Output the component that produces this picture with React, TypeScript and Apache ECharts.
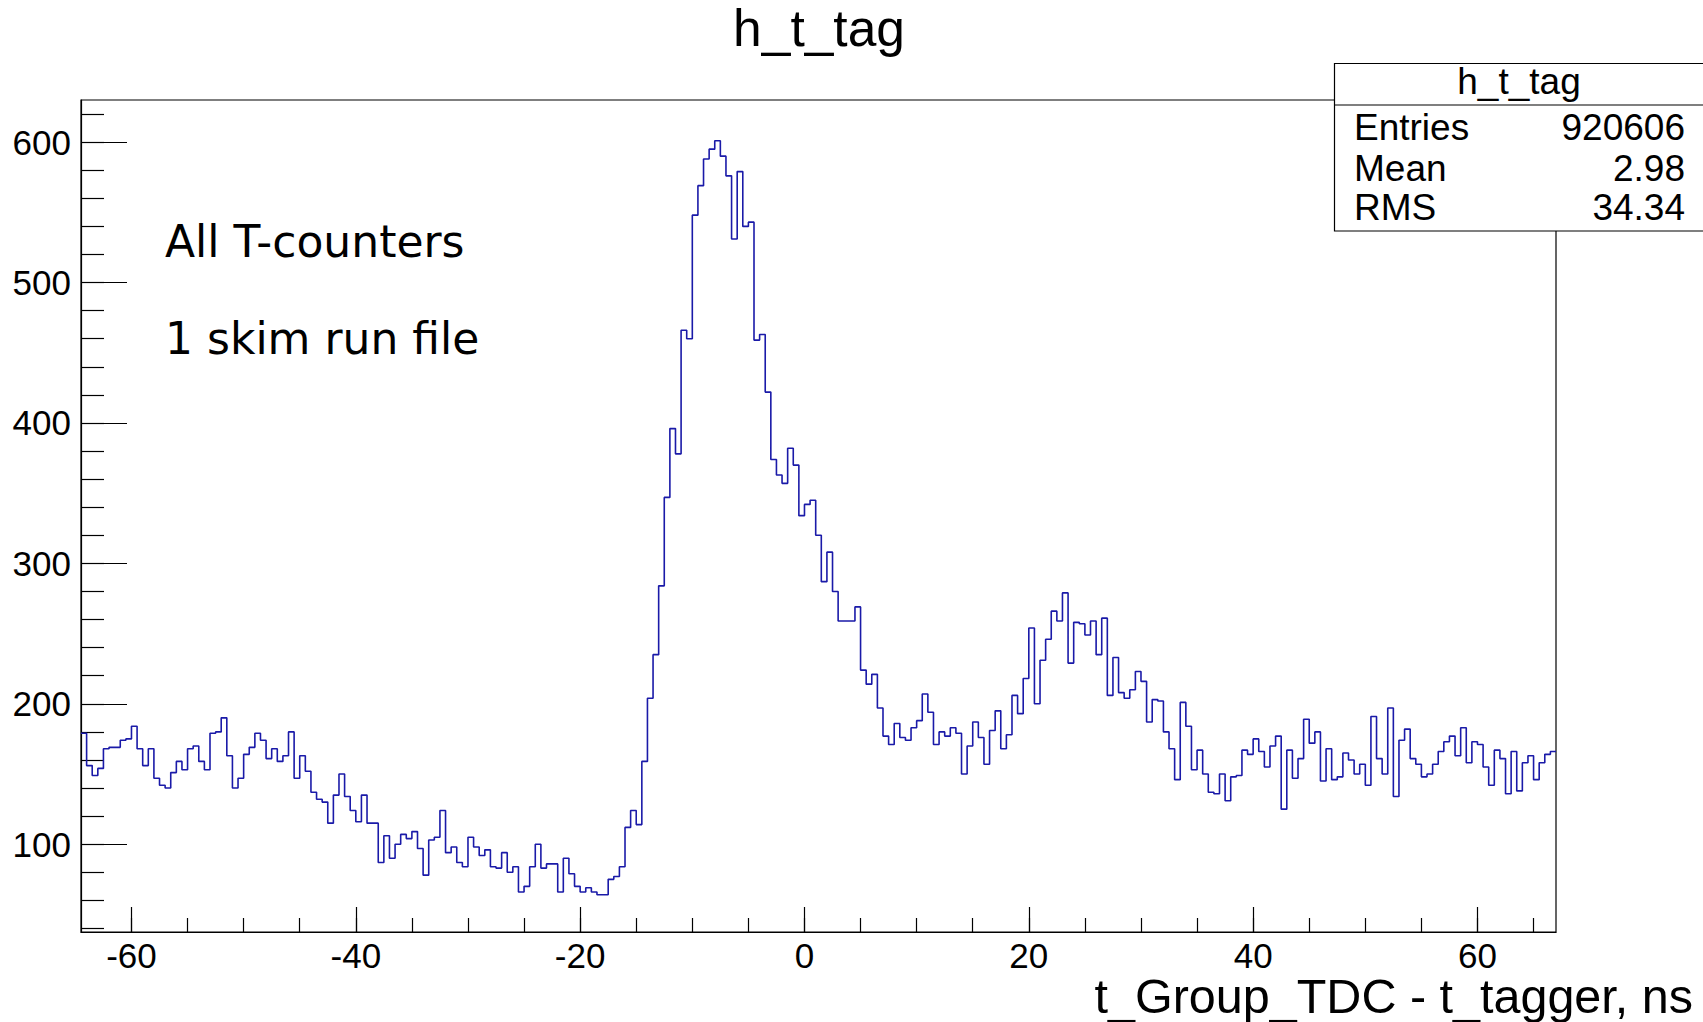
import React, { useEffect, useRef } from "react";
import * as echarts from "echarts";

// Histogram binning (ns)
const BIN_START = -64.5;
const BIN_WIDTH = 0.5;

// Bin contents, left to right
const countsLeft = [
  179, 156, 149, 154, 168, 169, 169, 174, 175, 184,
  168, 156, 168, 147, 142, 140, 151, 159, 153, 168,
  170, 159, 153, 179, 180, 190, 163, 140, 147, 164,
  169, 179, 174, 161, 168, 159, 163, 180, 147, 163,
  152, 137, 132, 130, 115, 135, 150, 134, 124, 116,
];
const countsDip = [
  135, 115, 115, 87, 106, 90, 100, 107, 104, 109,
  97, 78, 103, 105, 124, 94, 98, 87, 84, 105,
  98, 92, 96, 84, 83, 94, 80, 84, 66, 70,
  84, 100, 83, 86, 86, 66, 90, 79, 70, 66,
  69, 66, 64, 64, 75, 77, 84, 112, 124, 114,
];
const countsPeak = [
  159, 204, 235, 284, 347, 396, 378, 466, 460, 548,
  569, 588, 595, 601, 590, 576, 531, 579, 540, 543,
  459, 463, 422, 374, 363, 357, 382, 370, 334, 342,
  345, 320, 287, 308, 280, 259, 259, 259, 269, 224,
  214, 221, 197, 177, 171, 186, 176, 174, 183, 188,
];
const countsBump = [
  207, 194, 171, 180, 177, 183, 179, 150, 170, 187,
  176, 157, 181, 195, 168, 178, 206, 193, 218, 254,
  200, 231, 246, 266, 259, 279, 229, 258, 257, 249,
  259, 235, 261, 206, 233, 208, 204, 210, 223, 216,
  187, 203, 202, 180, 168, 146, 201, 184, 153, 167,
];
const countsRight = [
  150, 137, 136, 150, 131, 148, 149, 167, 164, 175,
  166, 155, 170, 177, 125, 167, 147, 161, 189, 172,
  180, 145, 168, 146, 148, 165, 160, 150, 157, 142,
  191, 161, 150, 197, 134, 174, 182, 161, 157, 148,
  150, 157, 166, 173, 177, 163, 183, 158, 173, 171,
  155, 142, 167, 161, 136, 166, 138, 158, 163, 146,
  158, 164, 166,
];

const xMajorTicks = [-60, -40, -20, 0, 20, 40, 60];
const xMinorTicks = [-60, -55, -50, -45, -40, -35, -30, -25, -20, -15, -10, -5, 0, 5, 10, 15, 20, 25, 30, 35, 40, 45, 50, 55, 60, 65];
const yMajorTicks = [100, 200, 300, 400, 500, 600];
const yMinorTicks = [40, 60, 80, 100, 120, 140, 160, 180, 200, 220, 240, 260, 280, 300, 320, 340, 360, 380, 400, 420, 440, 460, 480, 500, 520, 540, 560, 580, 600, 620];

const X_MIN = -64.5;
const X_MAX = 67;
const Y_MIN = 37.5;
const Y_MAX = 630;

const histTitle = "h_t_tag";
const xAxisTitle = "t_Group_TDC - t_tagger, ns";
const noteLines = ["All T-counters", "1 skim run file"];
const statsName = "h_t_tag";
const statsLabels = ["Entries", "Mean", "RMS"];
const statsValues = ["920606", "2.98", "34.34"];

const SANS = '"Liberation Sans", Arial, Helvetica, sans-serif';
const DEJAVU = '"DejaVu Sans", sans-serif';

export default function App() {
  const ref = useRef<HTMLDivElement | null>(null);

  useEffect(() => {
    if (!ref.current) return;
    const chart = echarts.init(ref.current, undefined, { renderer: "svg" });

    const counts = [...countsLeft, ...countsDip, ...countsPeak, ...countsBump, ...countsRight];
    const stepData: number[][] = counts.map((c, i) => [BIN_START + i * BIN_WIDTH, c]);
    stepData.push([BIN_START + counts.length * BIN_WIDTH, counts[counts.length - 1]]);

    const textEl = (
      text: string,
      x: number,
      baseline: number,
      size: number,
      family: string,
      align: string,
      lineHeight?: number
    ) => ({
      type: "text",
      z: 100,
      x,
      y: baseline - 0.35 * size,
      style: {
        text,
        fill: "#000",
        font: `${size}px ${family}`,
        textAlign: align,
        textVerticalAlign: "middle",
        align,
        verticalAlign: "middle",
        ...(lineHeight ? { lineHeight } : {}),
      },
    });

    const statsBaselines = [140, 181, 220];

    const graphics: any[] = [
      textEl(histTitle, 819, 46, 51.5, SANS, "center"),
      textEl(xAxisTitle, 1693, 1013, 48.5, SANS, "right", 36),
      textEl(noteLines[0], 165, 257, 44, DEJAVU, "left"),
      textEl(noteLines[1], 165, 354, 44, DEJAVU, "left"),
      {
        type: "rect",
        z: 90,
        shape: { x: 1334.5, y: 63.5, width: 380, height: 167.5 },
        style: { fill: "#fff", stroke: "#000", lineWidth: 1.2 },
      },
      {
        type: "line",
        z: 95,
        shape: { x1: 1334.5, y1: 105, x2: 1703, y2: 105 },
        style: { stroke: "#000", lineWidth: 1.2 },
      },
      textEl(statsName, 1519, 94, 37, SANS, "center"),
    ];
    statsLabels.forEach((lab, i) => {
      graphics.push(textEl(lab, 1354, statsBaselines[i], 37, SANS, "left"));
      graphics.push(textEl(statsValues[i], 1685, statsBaselines[i], 37, SANS, "right"));
    });

    const option: any = {
      animation: false,
      backgroundColor: "#fff",
      grid: {
        left: 81,
        top: 100,
        width: 1475,
        height: 832,
        show: true,
        borderColor: "#000",
        borderWidth: 1.2,
        backgroundColor: "transparent",
      },
      xAxis: [
        {
          type: "value",
          position: "bottom",
          min: X_MIN,
          max: X_MAX,
          axisLine: { show: true, onZero: false, lineStyle: { color: "#000", width: 1.2 } },
          axisTick: { show: true, inside: true, length: 25, customValues: xMajorTicks, lineStyle: { color: "#000", width: 1.2 } },
          axisLabel: { show: true, customValues: xMajorTicks, fontSize: 35, fontFamily: SANS, color: "#000", margin: 8, lineHeight: 30 },
          splitLine: { show: false },
        },
        {
          type: "value",
          position: "bottom",
          min: X_MIN,
          max: X_MAX,
          axisLine: { show: false, onZero: false },
          axisTick: { show: true, inside: true, length: 14, customValues: xMinorTicks, lineStyle: { color: "#000", width: 1.2 } },
          axisLabel: { show: false },
          splitLine: { show: false },
        },
      ],
      yAxis: [
        {
          type: "value",
          position: "left",
          min: Y_MIN,
          max: Y_MAX,
          axisLine: { show: true, onZero: false, lineStyle: { color: "#000", width: 1.2 } },
          axisTick: { show: true, inside: true, length: 46, customValues: yMajorTicks, lineStyle: { color: "#000", width: 1.2 } },
          axisLabel: { show: true, customValues: yMajorTicks, fontSize: 35, fontFamily: SANS, color: "#000", margin: 10 },
          splitLine: { show: false },
        },
        {
          type: "value",
          position: "left",
          min: Y_MIN,
          max: Y_MAX,
          axisLine: { show: false, onZero: false },
          axisTick: { show: true, inside: true, length: 23, customValues: yMinorTicks, lineStyle: { color: "#000", width: 1.2 } },
          axisLabel: { show: false },
          splitLine: { show: false },
        },
      ],
      series: [
        {
          type: "line",
          name: histTitle,
          xAxisIndex: 0,
          yAxisIndex: 0,
          step: "end",
          symbol: "none",
          showSymbol: false,
          data: stepData,
          lineStyle: { color: "#1a1aa8", width: 1.6 },
          z: 5,
          silent: true,
        },
      ],
      graphic: graphics,
    };

    chart.setOption(option);
    return () => {
      chart.dispose();
    };
  }, []);

  return (
    <div
      ref={ref}
      style={{ position: "fixed", left: 0, top: 0, width: 1703, height: 1022, background: "#fff" }}
    />
  );
}
